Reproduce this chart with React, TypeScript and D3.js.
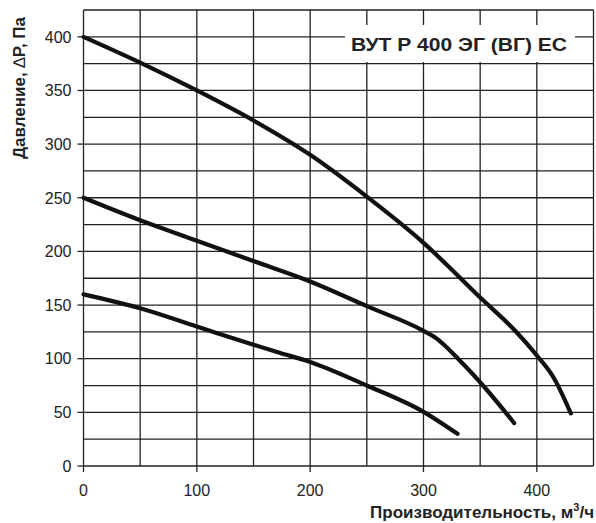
import React from "react";
import * as d3 from "d3";

const curveTop: [number, number][] = [
  [0, 400], [50, 376], [100, 350], [150, 322], [200, 290], [250, 251],
  [300, 208], [350, 157], [380, 127], [400, 103], [415, 82], [430, 49],
];
const curveMid: [number, number][] = [
  [0, 250], [50, 229], [100, 210], [150, 191], [200, 172], [250, 149],
  [300, 126], [310, 120], [335, 95], [355, 72], [380, 40],
];
const curveLow: [number, number][] = [
  [0, 160], [50, 147], [100, 130], [150, 113], [173, 105.5], [200, 97],
  [250, 75], [300, 50.5], [330, 30],
];
const xTicks = [0, 100, 200, 300, 400];
const yTicks = [0, 50, 100, 150, 200, 250, 300, 350, 400];
const title = "ВУТ Р 400 ЭГ (ВГ) ЕС";
const xLabel = "Производительность, м";
const yLabelA = "Давление, ";
const yLabelDelta = "\u2206";
const yLabelB = "P, Па";

export default function App() {
  const W = 596, H = 523;
  const left = 83.5, right = 593.5, top = 10, bottom = 466;
  const x = d3.scaleLinear().domain([0, 450]).range([left, right]);
  const y = d3.scaleLinear().domain([0, 425]).range([bottom, top]);
  const line = d3.line<[number, number]>()
    .x(d => x(d[0])).y(d => y(d[1]))
    .curve(d3.curveMonotoneX);
  const vGrid = d3.range(0, 451, 50);
  const hGrid = d3.range(0, 426, 25);
  const font = "'Liberation Sans', Arial, sans-serif";
  const gridColor = "#222";
  return (
    <svg width={W} height={H} style={{ position: "absolute", left: 0, top: 0, background: "#fff" }} fontFamily={font}>
      <rect x={0} y={0} width={W} height={H} fill="#fff" />
      {vGrid.map(v => (
        <line key={"v" + v} x1={x(v)} x2={x(v)} y1={top} y2={bottom} stroke={gridColor} strokeWidth={1.3} />
      ))}
      {hGrid.map(v => (
        <line key={"h" + v} x1={left} x2={right} y1={y(v)} y2={y(v)} stroke={gridColor} strokeWidth={1.3} />
      ))}
      {yTicks.map(v => (
        <g key={"yt" + v}>
          <line x1={left - 6} x2={left} y1={y(v)} y2={y(v)} stroke={gridColor} strokeWidth={1.3} />
          <text x={left - 12} y={y(v)} dy="0.36em" textAnchor="end" fontSize={16} fill="#222">{v}</text>
        </g>
      ))}
      {xTicks.map(v => (
        <g key={"xt" + v}>
          <line x1={x(v)} x2={x(v)} y1={bottom} y2={bottom + 6} stroke={gridColor} strokeWidth={1.3} />
          <text x={x(v)} y={bottom + 30} textAnchor="middle" fontSize={16} fill="#222">{v}</text>
        </g>
      ))}
      <rect x={345} y={25} width={230} height={37} fill="#fff" />
      <text x={351} y={44} dy="0.36em" fontSize={19} fontWeight="bold" fill="#222" textLength={216} lengthAdjust="spacingAndGlyphs">{title}</text>
      {[curveTop, curveMid, curveLow].map((c, i) => (
        <path key={"c" + i} d={line(c) || ""} fill="none" stroke="#111" strokeWidth={4.2} strokeLinecap="round" strokeLinejoin="round" />
      ))}
      <text x={594} y={518} textAnchor="end" fontSize={17} fontWeight="bold" fill="#222">
        {xLabel}
        <tspan dy={-7} fontSize={11}>3</tspan>
        <tspan dy={7}>/ч</tspan>
      </text>
      <text transform="translate(25,88) rotate(-90)" textAnchor="middle" fontSize={17} fontWeight="bold" fill="#222">
        {yLabelA}
        <tspan fontWeight="normal">{yLabelDelta}</tspan>
        {yLabelB}
      </text>
    </svg>
  );
}
